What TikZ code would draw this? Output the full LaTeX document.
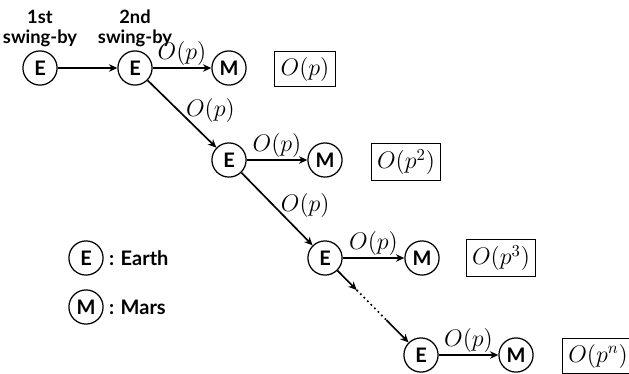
\documentclass[tikz,border=0pt]{standalone}
\usepackage{fontspec}
\setsansfont{Lato}
\usetikzlibrary{calc,arrows.meta}
\tikzset{
  planet/.style={circle,draw,line width=0.75pt,minimum size=20.5pt,inner sep=0pt,font=\sffamily\bfseries\large},
  flow/.style={-{Stealth[length=5pt,width=4.5pt]},line width=1pt},
  probbox/.style={draw,line width=0.75pt,minimum height=18.5pt,inner xsep=3.5pt,font=\Large},
  prob/.style={font=\Large,inner sep=1pt},
  caption/.style={font=\sffamily\bfseries\fontsize{11}{12}\selectfont,align=center,inner sep=1pt}
}
\begin{document}
\begin{tikzpicture}[x=0.6pt,y=-0.6pt]
  \useasboundingbox (0,0) rectangle (629,373);
  % swing-by chain
  \node[planet] (E0) at (40,68) {E};
  \node[planet] (E1) at (135,68) {E};
  \node[planet] (M1) at (229,68) {M};
  \node[planet] (E2) at (229,160) {E};
  \node[planet] (M2) at (325,160) {M};
  \node[planet] (E3) at (325,258) {E};
  \node[planet] (M3) at (422,258) {M};
  \node[planet] (E4) at (421,355) {E};
  \node[planet] (M4) at (516,355) {M};
  \node[caption,above=1pt] (first) at (E0.north) {1st\\swing-by};
  \node[caption,above=1pt] (second) at (E1.north) {2nd\\swing-by};
  % probabilities
  \node[probbox] (P1) at (305,69) {$O(p)$};
  \node[probbox] (P2) at (406,162) {$O(p^2)$};
  \node[probbox] (P3) at (501,258) {$O(p^3)$};
  \node[probbox] (P4) at (598,356) {$O(p^n)$};
  % arrows
  \draw[flow] (E0) -- (E1);
  \draw[flow] (E1) -- node[prob,above] (l1) {$O(p)$} (M1);
  \draw[flow] (E1) -- node[prob,right=3pt,pos=0.45] (d1) {$O(p)$} (E2);
  \draw[flow] (E2) -- node[prob,above] (l2) {$O(p)$} (M2);
  \draw[flow] (E2) -- node[prob,right=3pt,pos=0.45] (d2) {$O(p)$} (E3);
  \draw[flow] (E3) -- node[prob,above] (l3) {$O(p)$} (M3);
  \coordinate (g1) at ($(E3)!0.33!(E4)$);
  \coordinate (g2) at ($(E3)!0.64!(E4)$);
  \draw[flow] (E3) -- (g1);
  \draw[line width=1pt,dotted] (g1) -- (g2);
  \draw[flow] (g2) -- (E4);
  \draw[flow] (E4) -- node[prob,above] (l4) {$O(p)$} (M4);
  % legend
  \node[planet] (LE) at (86,258) {E};
  \node[caption,right=2pt,font=\sffamily\bfseries\large] (earth) at (LE.east) {: Earth};
  \node[planet] (LM) at (86,307) {M};
  \node[caption,right=2pt,font=\sffamily\bfseries\large] (mars) at (LM.east) {: Mars};
\end{tikzpicture}
\end{document}
